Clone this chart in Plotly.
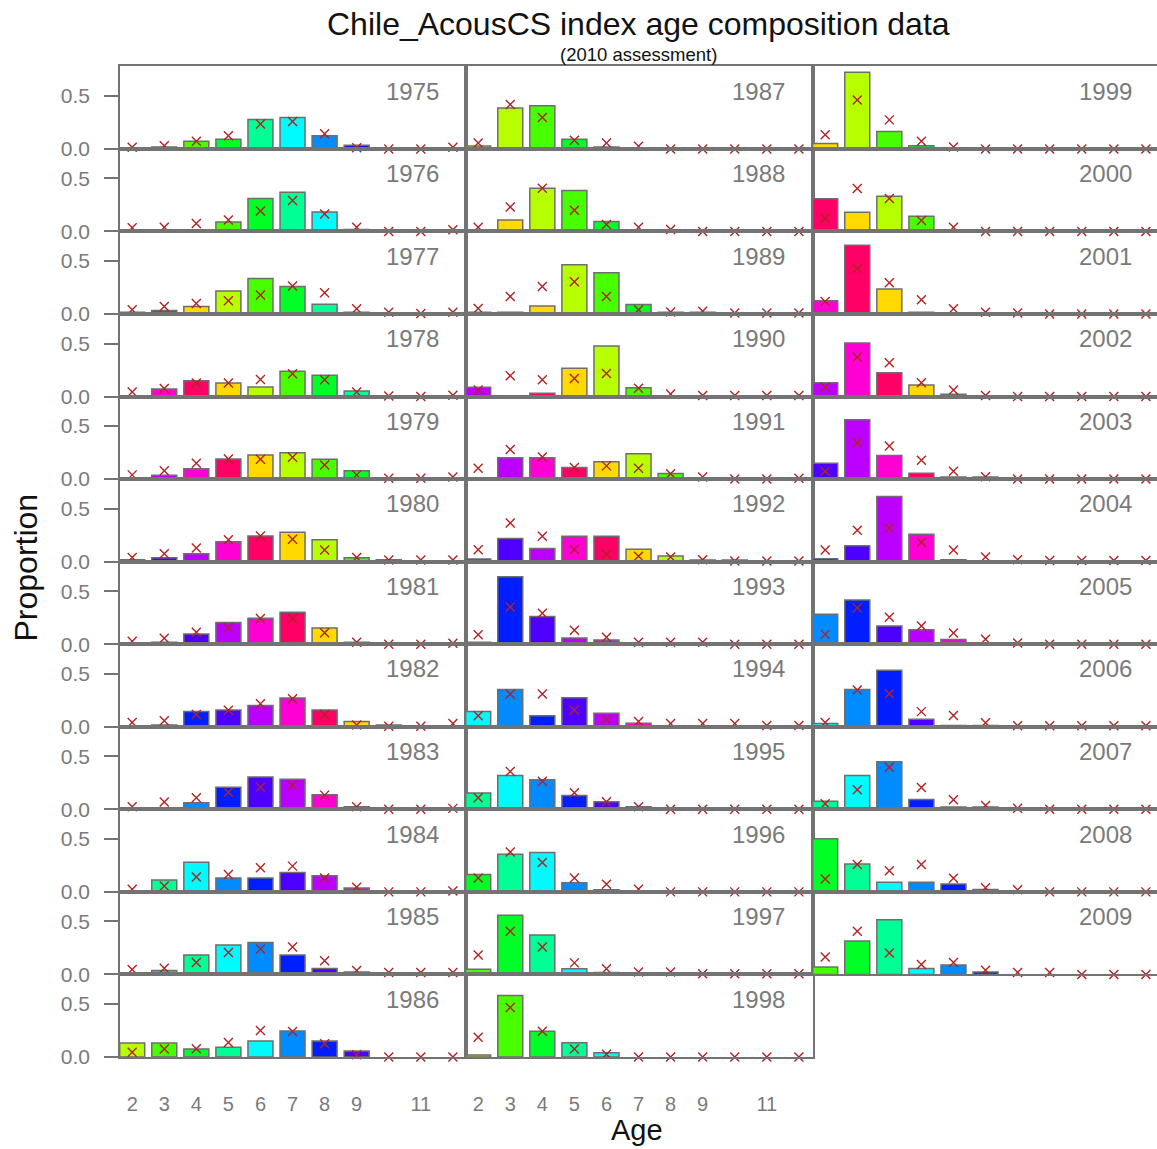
import plotly.graph_objects as go

# ---- data: proportion at age (ages 2..12) per survey year ----
ages = [2, 3, 4, 5, 6, 7, 8, 9, 10, 11, 12]
years = list(range(1975, 2010))

obs_1975 = [0, 0.019, 0.072, 0.09, 0.277, 0.296, 0.125, 0.034, 0, 0, 0]
exp_1975 = [0.016, 0.03, 0.072, 0.125, 0.234, 0.259, 0.143, 0.01, 0, 0, 0.015]
obs_1976 = [0, 0, 0.016, 0.09, 0.31, 0.37, 0.184, 0.019, 0, 0, 0]
exp_1976 = [0.034, 0.04, 0.075, 0.109, 0.193, 0.293, 0.165, 0.04, 0, 0, 0.016]
obs_1977 = [0.016, 0.034, 0.072, 0.218, 0.336, 0.259, 0.093, 0.016, 0, 0, 0]
exp_1977 = [0.04, 0.072, 0.1, 0.125, 0.18, 0.265, 0.2, 0.05, 0.016, 0.006, 0.016]
obs_1978 = [0, 0.072, 0.15, 0.128, 0.09, 0.24, 0.2, 0.053, 0, 0, 0]
exp_1978 = [0.044, 0.075, 0.128, 0.128, 0.162, 0.215, 0.159, 0.044, 0.006, 0, 0.012]
obs_1979 = [0, 0.037, 0.097, 0.19, 0.227, 0.249, 0.187, 0.078, 0, 0, 0]
exp_1979 = [0.04, 0.078, 0.15, 0.19, 0.187, 0.206, 0.134, 0.04, 0.009, 0.009, 0.019]
obs_1980 = [0.019, 0.037, 0.075, 0.187, 0.243, 0.277, 0.206, 0.037, 0.019, 0, 0]
exp_1980 = [0.04, 0.075, 0.128, 0.206, 0.243, 0.212, 0.109, 0.04, 0.016, 0.016, 0.016]
obs_1981 = [0, 0.019, 0.097, 0.206, 0.246, 0.302, 0.153, 0.019, 0, 0, 0]
exp_1981 = [0.028, 0.056, 0.112, 0.156, 0.243, 0.243, 0.109, 0.019, 0, 0, 0.009]
obs_1982 = [0, 0.016, 0.143, 0.159, 0.2, 0.271, 0.159, 0.05, 0.016, 0, 0]
exp_1982 = [0.04, 0.056, 0.115, 0.156, 0.218, 0.265, 0.115, 0.016, 0.006, 0.006, 0.03]
obs_1983 = [0, 0, 0.062, 0.209, 0.305, 0.283, 0.137, 0.025, 0, 0, 0]
exp_1983 = [0.025, 0.069, 0.109, 0.162, 0.209, 0.227, 0.134, 0.025, 0, 0, 0.009]
obs_1984 = [0, 0.112, 0.28, 0.131, 0.131, 0.184, 0.153, 0.037, 0, 0, 0]
exp_1984 = [0.025, 0.056, 0.14, 0.165, 0.227, 0.243, 0.131, 0.044, 0, 0, 0.009]
obs_1985 = [0, 0.037, 0.184, 0.277, 0.302, 0.184, 0.056, 0.022, 0, 0, 0]
exp_1985 = [0.047, 0.059, 0.112, 0.206, 0.24, 0.259, 0.128, 0.037, 0.019, 0.019, 0.019]
obs_1986 = [0.131, 0.131, 0.075, 0.093, 0.15, 0.246, 0.15, 0.056, 0, 0, 0]
exp_1986 = [0.044, 0.075, 0.078, 0.137, 0.249, 0.24, 0.125, 0.022, 0, 0, 0]
obs_1987 = [0.028, 0.386, 0.408, 0.09, 0.019, 0, 0, 0, 0, 0, 0]
exp_1987 = [0.056, 0.42, 0.296, 0.081, 0.056, 0.025, 0, 0, 0, 0, 0]
obs_1988 = [0, 0.109, 0.408, 0.386, 0.093, 0, 0, 0, 0, 0, 0]
exp_1988 = [0.04, 0.23, 0.408, 0.2, 0.065, 0.04, 0.019, 0, 0, 0, 0]
obs_1989 = [0.016, 0.016, 0.075, 0.464, 0.389, 0.09, 0.016, 0.016, 0, 0, 0]
exp_1989 = [0.053, 0.165, 0.259, 0.305, 0.165, 0.04, 0.019, 0.025, 0.01, 0.01, 0.01]
obs_1990 = [0.087, 0, 0.031, 0.268, 0.477, 0.084, 0, 0, 0, 0, 0]
exp_1990 = [0.062, 0.196, 0.159, 0.171, 0.218, 0.078, 0.025, 0.01, 0.01, 0.01, 0.01]
obs_1991 = [0.012, 0.202, 0.202, 0.109, 0.165, 0.24, 0.053, 0, 0, 0, 0]
exp_1991 = [0.103, 0.28, 0.209, 0.109, 0.125, 0.103, 0.05, 0.019, 0, 0, 0.009]
obs_1992 = [0.025, 0.218, 0.125, 0.24, 0.24, 0.118, 0.053, 0.016, 0.016, 0, 0]
exp_1992 = [0.112, 0.364, 0.24, 0.115, 0.069, 0.05, 0.044, 0.019, 0.006, 0.006, 0.006]
obs_1993 = [0.019, 0.636, 0.262, 0.059, 0.04, 0, 0, 0, 0, 0, 0]
exp_1993 = [0.09, 0.352, 0.293, 0.131, 0.065, 0.019, 0.019, 0.019, 0, 0, 0]
obs_1994 = [0.143, 0.352, 0.103, 0.274, 0.128, 0.034, 0, 0, 0, 0, 0]
exp_1994 = [0.103, 0.31, 0.31, 0.159, 0.069, 0.05, 0.03, 0.03, 0.03, 0.012, 0.012]
obs_1995 = [0.153, 0.318, 0.28, 0.131, 0.072, 0.025, 0, 0, 0, 0, 0]
exp_1995 = [0.109, 0.358, 0.265, 0.156, 0.072, 0.025, 0, 0, 0, 0, 0]
obs_1996 = [0.165, 0.355, 0.371, 0.087, 0.019, 0, 0, 0, 0, 0, 0]
exp_1996 = [0.131, 0.377, 0.277, 0.131, 0.072, 0.025, 0, 0, 0, 0, 0]
obs_1997 = [0.05, 0.558, 0.371, 0.053, 0.019, 0, 0, 0, 0, 0, 0]
exp_1997 = [0.184, 0.408, 0.259, 0.109, 0.053, 0.022, 0.022, 0.006, 0.006, 0.006, 0.006]
obs_1998 = [0.019, 0.579, 0.243, 0.134, 0.04, 0, 0, 0, 0, 0, 0]
exp_1998 = [0.187, 0.467, 0.243, 0.075, 0.025, 0, 0, 0, 0, 0, 0]
obs_1999 = [0.05, 0.723, 0.165, 0.031, 0, 0, 0, 0, 0, 0, 0]
exp_1999 = [0.134, 0.461, 0.274, 0.072, 0.019, 0, 0, 0, 0, 0, 0]
obs_2000 = [0.308, 0.181, 0.333, 0.143, 0.016, 0, 0, 0, 0, 0, 0]
exp_2000 = [0.125, 0.405, 0.312, 0.103, 0.04, 0, 0, 0, 0, 0, 0]
obs_2001 = [0.125, 0.648, 0.237, 0.016, 0, 0, 0, 0, 0, 0, 0]
exp_2001 = [0.118, 0.43, 0.296, 0.134, 0.05, 0.016, 0.01, 0, 0, 0, 0]
obs_2002 = [0.131, 0.505, 0.224, 0.109, 0.022, 0, 0, 0, 0, 0, 0]
exp_2002 = [0.087, 0.374, 0.318, 0.131, 0.062, 0.01, 0, 0, 0, 0, 0]
obs_2003 = [0.15, 0.561, 0.224, 0.056, 0.019, 0.019, 0, 0, 0, 0, 0]
exp_2003 = [0.075, 0.343, 0.312, 0.178, 0.075, 0.022, 0, 0, 0, 0, 0]
obs_2004 = [0.028, 0.15, 0.614, 0.259, 0.019, 0, 0, 0, 0, 0, 0]
exp_2004 = [0.109, 0.296, 0.315, 0.184, 0.109, 0.044, 0.019, 0.01, 0.01, 0.01, 0.01]
obs_2005 = [0.283, 0.417, 0.171, 0.137, 0.044, 0, 0, 0, 0, 0, 0]
exp_2005 = [0.093, 0.343, 0.255, 0.171, 0.106, 0.047, 0.012, 0, 0, 0, 0]
obs_2006 = [0.031, 0.352, 0.533, 0.072, 0.012, 0.012, 0, 0, 0, 0, 0]
exp_2006 = [0.04, 0.346, 0.312, 0.143, 0.106, 0.037, 0.01, 0.01, 0.01, 0.01, 0.01]
obs_2007 = [0.075, 0.318, 0.449, 0.093, 0.022, 0.022, 0, 0, 0, 0, 0]
exp_2007 = [0.053, 0.184, 0.396, 0.206, 0.09, 0.037, 0.01, 0, 0, 0, 0]
obs_2008 = [0.502, 0.262, 0.09, 0.09, 0.075, 0.022, 0, 0, 0, 0, 0]
exp_2008 = [0.121, 0.259, 0.2, 0.259, 0.128, 0.04, 0.019, 0, 0, 0, 0]
obs_2009 = [0.069, 0.315, 0.517, 0.056, 0.09, 0.022, 0, 0, 0, 0, 0]
exp_2009 = [0.165, 0.408, 0.202, 0.093, 0.112, 0.04, 0.019, 0.019, 0, 0, 0]

observed = [obs_1975, obs_1976, obs_1977, obs_1978, obs_1979, obs_1980, obs_1981,
            obs_1982, obs_1983, obs_1984, obs_1985, obs_1986, obs_1987, obs_1988,
            obs_1989, obs_1990, obs_1991, obs_1992, obs_1993, obs_1994, obs_1995,
            obs_1996, obs_1997, obs_1998, obs_1999, obs_2000, obs_2001, obs_2002,
            obs_2003, obs_2004, obs_2005, obs_2006, obs_2007, obs_2008, obs_2009]
expected = [exp_1975, exp_1976, exp_1977, exp_1978, exp_1979, exp_1980, exp_1981,
            exp_1982, exp_1983, exp_1984, exp_1985, exp_1986, exp_1987, exp_1988,
            exp_1989, exp_1990, exp_1991, exp_1992, exp_1993, exp_1994, exp_1995,
            exp_1996, exp_1997, exp_1998, exp_1999, exp_2000, exp_2001, exp_2002,
            exp_2003, exp_2004, exp_2005, exp_2006, exp_2007, exp_2008, exp_2009]

x_tickvals = [2, 3, 4, 5, 6, 7, 8, 9, 11]
y_tickvals = [0.0, 0.5]
y_ticktext = ["0.0", "0.5"]

# cohort colours: 12-step hue cycle, one colour per year class
cohort_palette = ["#FFD900", "#B7FF00", "#48FF00", "#00FF26", "#00FF95", "#00FBFF",
                  "#008CFF", "#001EFF", "#4D00FF", "#BB00FF", "#FF00D4", "#FF0066"]
REF_COHORT = 1985

# ---- page geometry (pixels) ----
W, H = 1157, 1149
COLS = [(120, 466), (466, 813), (813, 1157)]
GRID_TOP = 67
ROW_H = 83.35
N_ROWS = 12
X_LEFT = 1.62
PX_PER_AGE = 32.07
Y_RANGE = [0, 0.779]

FONT = "Liberation Sans, Arial, sans-serif"
FRAME = "#737373"
TEXT_GREY = "#7A7A7A"
BAR_EDGE = "#6E6E6E"
MARK = "#B22222"


def px_x(p):
    return p / W


def px_y(p):
    return 1 - p / H


fig = go.Figure()
layout = {}
annotations = []

for i, (yr, ob, ex) in enumerate(zip(years, observed, expected)):
    col, row = divmod(i, N_ROWS)
    n = i + 1
    xa = "x" if n == 1 else f"x{n}"
    ya = "y" if n == 1 else f"y{n}"
    xl = "xaxis" if n == 1 else f"xaxis{n}"
    yl = "yaxis" if n == 1 else f"yaxis{n}"

    x0, x1 = COLS[col]
    top = GRID_TOP + row * ROW_H
    bot = top + ROW_H
    x_range = [X_LEFT, X_LEFT + (x1 - x0) / PX_PER_AGE]

    colors = [cohort_palette[(REF_COHORT - (yr - a)) % 12] for a in ages]
    fig.add_trace(go.Bar(
        x=ages, y=[v if v > 0 else None for v in ob],
        width=0.78, marker=dict(color=colors, line=dict(color=BAR_EDGE, width=1.5)),
        xaxis=xa, yaxis=ya, showlegend=False, hoverinfo="x+y",
    ))
    fig.add_trace(go.Scatter(
        x=ages, y=ex, mode="markers",
        marker=dict(symbol="x-thin", size=9, line=dict(color=MARK, width=1.4), color=MARK),
        xaxis=xa, yaxis=ya, showlegend=False, cliponaxis=False, hoverinfo="x+y",
    ))

    bottom_labels = (row == N_ROWS - 1) and col < 2
    layout[xl] = dict(
        domain=[px_x(x0), px_x(x1)], range=x_range, anchor=ya,
        showline=True, mirror=True, linecolor=FRAME, linewidth=1.5,
        showgrid=False, zeroline=False, ticks="",
        tickvals=x_tickvals, showticklabels=bottom_labels,
        ticklabelstandoff=28,
        tickfont=dict(family=FONT, size=20, color=TEXT_GREY),
    )
    layout[yl] = dict(
        domain=[px_y(bot), px_y(top)], range=Y_RANGE, anchor=xa,
        showline=True, mirror=(col < 2), linecolor=FRAME, linewidth=1.5,
        showgrid=False, zeroline=False,
        tickvals=y_tickvals, ticktext=y_ticktext,
        ticks="outside" if col == 0 else "", ticklen=14, tickwidth=1.5, tickcolor=FRAME,
        showticklabels=(col == 0), ticklabelstandoff=10,
        tickfont=dict(family=FONT, size=21, color=TEXT_GREY),
    )

    annotations.append(dict(
        text=str(yr), xref="paper", yref="paper",
        x=px_x(x0 + 321), y=px_y(top + 25), xanchor="right", yanchor="middle",
        showarrow=False, font=dict(family=FONT, size=24, color=TEXT_GREY),
    ))

annotations += [
    dict(text="Chile_AcousCS index age composition data", xref="paper", yref="paper",
         x=px_x(638), y=px_y(24), xanchor="center", yanchor="middle", showarrow=False,
         font=dict(family=FONT, size=32, color="#111111")),
    dict(text="(2010 assessment)", xref="paper", yref="paper",
         x=px_x(638), y=px_y(55), xanchor="center", yanchor="middle", showarrow=False,
         font=dict(family=FONT, size=18.5, color="#111111")),
    dict(text="Age", xref="paper", yref="paper",
         x=px_x(637), y=px_y(1141), xanchor="center", yanchor="middle", showarrow=False,
         font=dict(family=FONT, size=29, color="#111111")),
    dict(text="Proportion", xref="paper", yref="paper", textangle=-90,
         x=px_x(26), y=px_y(573), xanchor="center", yanchor="middle", showarrow=False,
         font=dict(family=FONT, size=32, color="#111111")),
]

fig.update_layout(
    width=W, height=H, margin=dict(l=0, r=0, t=0, b=0),
    paper_bgcolor="white", plot_bgcolor="rgba(0,0,0,0)",
    barmode="overlay", annotations=annotations, **layout,
)

fig.write_html("out.html")
